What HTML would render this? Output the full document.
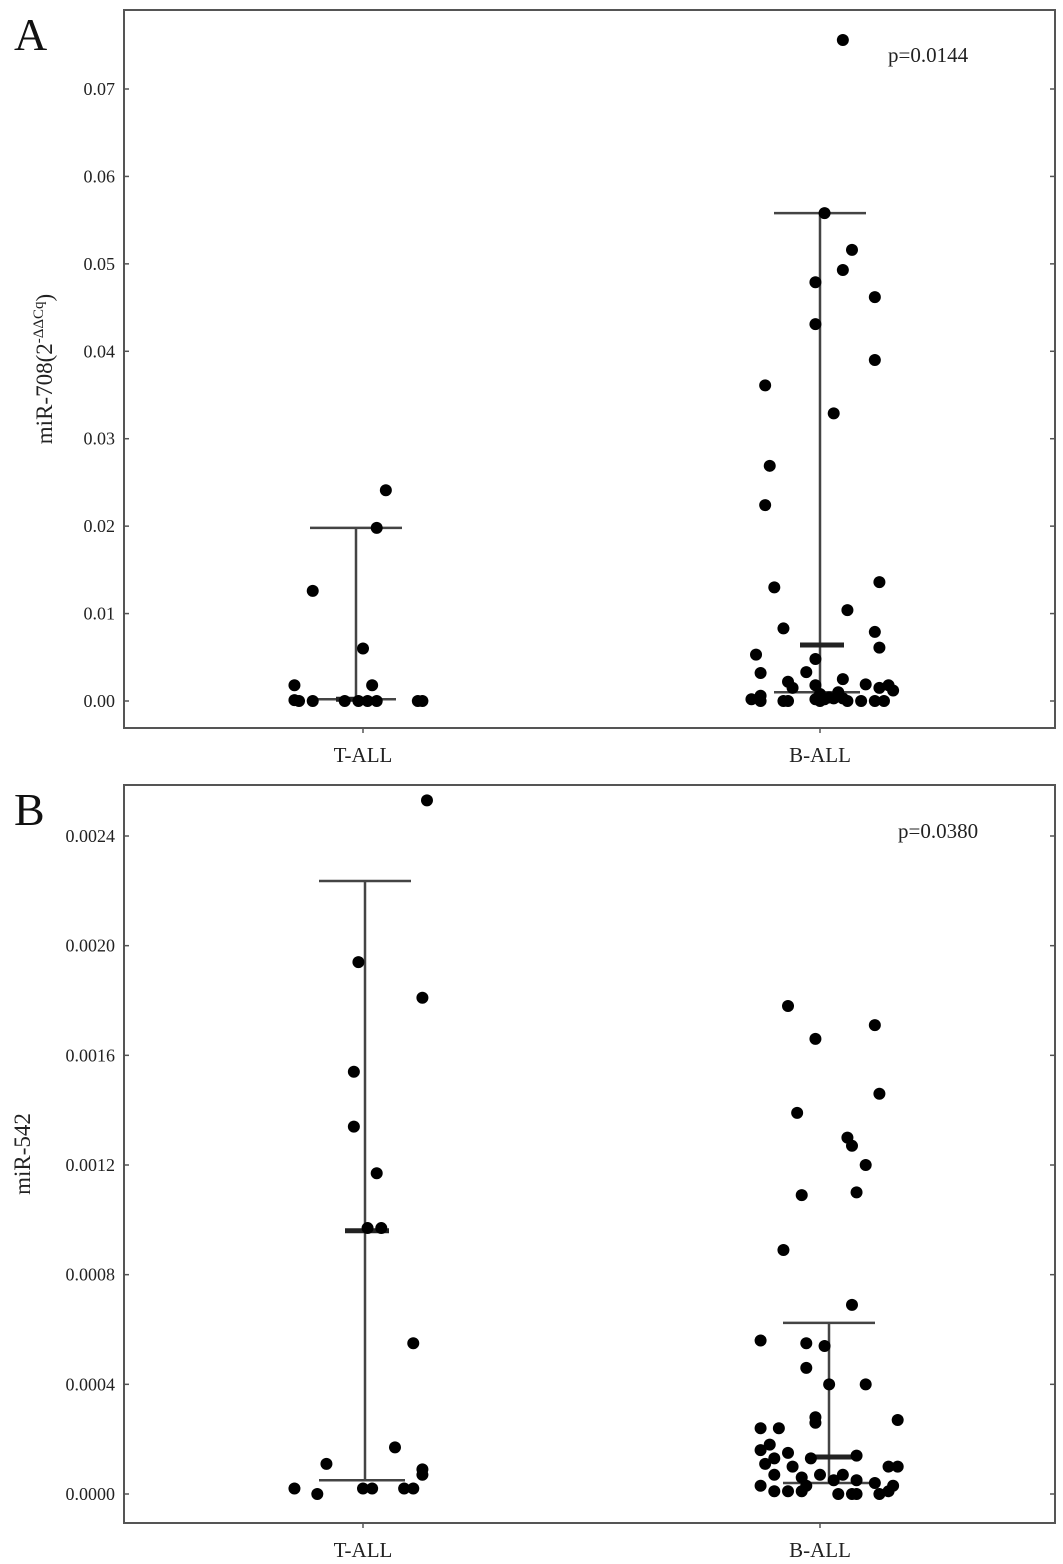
<!DOCTYPE html>
<html><head><meta charset="utf-8">
<style>
html,body{margin:0;padding:0;background:#fff;}
svg{display:block;font-family:"Liberation Serif",serif;}
</style></head>
<body>
<svg id="fig" width="1063" height="1564" viewBox="0 0 1063 1564"></svg>
<script>
const categories = ["T-ALL","B-ALL"];
// Panel A values
const aTicks = [0,0.01,0.02,0.03,0.04,0.05,0.06,0.07];
const aTickLabels = ["0.00","0.01","0.02","0.03","0.04","0.05","0.06","0.07"];
const aTValues = [0.0241,0.0198,0.0126,0.0060,0.0018,0.0018,0.0001,0,0,0,0,0,0,0,0];
const aTJitter = [0.05,0.03,-0.11,0.00,-0.15,0.02,-0.15,-0.14,-0.11,-0.04,-0.01,0.01,0.03,0.12,0.13];
const aBValues = [0.0756,0.0558,0.0516,0.0479,0.0493,0.0462,0.0431,0.0390,0.0361,0.0329,0.0269,0.0224,0.0130,0.0136,0.0104,0.0083,0.0079,0.0061,0.0053,0.0048,0.0032,0.0033,0.0025,0.0022,0.0019,0.0018,0.0015,0.0018,0.0015,0.0012,0.0002,0,0,0,0.0002,0,0.0002,0.0003,0.0003,0,0,0,0,0.0004,0.0008,0.0010,0.0006];
const aBJitter = [0.05,0.01,0.07,-0.01,0.05,0.12,-0.01,0.12,-0.12,0.03,-0.11,-0.12,-0.10,0.13,0.06,-0.08,0.12,0.13,-0.14,-0.01,-0.13,-0.03,0.05,-0.07,0.10,0.15,0.13,-0.01,-0.06,0.16,-0.15,-0.13,-0.08,-0.07,-0.01,0.00,0.01,0.03,0.05,0.06,0.09,0.12,0.14,0.02,0.00,0.04,-0.13];
const aTStats = {top:0.0198, median:0.0002, bottom:0.0002};
const aBStats = {top:0.0558, median:0.0064, bottom:0.0010};
// Panel B values
const bTicks = [0,0.0004,0.0008,0.0012,0.0016,0.0020,0.0024];
const bTickLabels = ["0.0000","0.0004","0.0008","0.0012","0.0016","0.0020","0.0024"];
const bTValues = [0.00253,0.00194,0.00181,0.00154,0.00134,0.00117,0.00097,0.00097,0.00055,0.00011,0.00017,0.00009,0.00007,0.00002,0.00000,0.00002,0.00002,0.00002,0.00002];
const bTJitter = [0.14,-0.01,0.13,-0.02,-0.02,0.03,0.01,0.04,0.11,-0.08,0.07,0.13,0.13,-0.15,-0.10,0.00,0.02,0.09,0.11];
const bBValues = [0.00178,0.00166,0.00171,0.00146,0.00139,0.00130,0.00127,0.00120,0.00109,0.00110,0.00089,0.00069,0.00056,0.00055,0.00054,0.00046,0.00040,0.00040,0.00028,0.00026,0.00027,0.00024,0.00024,0.00018,0.00016,0.00015,0.00013,0.00011,0.00010,0.00013,0.00014,0.00010,0.00010,0.00007,0.00006,0.00007,0.00007,0.00005,0.00005,0.00004,0.00003,0.00001,0.00001,0.00001,0.00003,0.00000,0.00000,0.00000,0.00000,0.00001,0.00003];
const bBJitter = [-0.07,-0.01,0.12,0.13,-0.05,0.06,0.07,0.10,-0.04,0.08,-0.08,0.07,-0.13,-0.03,0.01,-0.03,0.02,0.10,-0.01,-0.01,0.17,-0.13,-0.09,-0.11,-0.13,-0.07,-0.10,-0.12,-0.06,-0.02,0.08,0.15,0.17,-0.10,-0.04,0.00,0.05,0.03,0.08,0.12,0.16,-0.10,-0.07,-0.04,-0.03,0.04,0.07,0.08,0.13,0.15,-0.13];
const bTStats = {top:0.002236, median:0.00096, bottom:0.00005};
const bBStats = {top:0.000624, median:0.000135, bottom:0.00004};

const NS="http://www.w3.org/2000/svg";
const svg=document.getElementById('fig');
function el(tag,attrs,parent){const e=document.createElementNS(NS,tag);for(const k in attrs)e.setAttribute(k,attrs[k]);(parent||svg).appendChild(e);return e;}

function panel(p){
  const g=el('g',{});
  
  
  const L=124,R=1055;
  const y=v=>p.y0-(v-p.vmin)/(p.vmax-p.vmin)*(p.y0-p.y1);
  const catX=[363,820];
  const catW=457;
  const box=el('rect',{x:L,y:p.top,width:R-L,height:p.bottom-p.top,fill:'none',stroke:'#555','stroke-width':2},g);
  
  
  p.ticks.forEach((t,i)=>{
    const yy=y(t);
    el('line',{x1:L,x2:L+5,y1:yy,y2:yy,stroke:'#555','stroke-width':1.5},g);
    el('line',{x1:R-5,x2:R,y1:yy,y2:yy,stroke:'#555','stroke-width':1.5},g);
    const tx=el('text',{x:L-9,y:yy+6,'text-anchor':'end','font-size':18,fill:'#222'},g);
    tx.textContent=p.tickLabels[i];
    
    
  });
  categories.forEach((c,i)=>{
    el('line',{x1:catX[i],x2:catX[i],y1:p.bottom,y2:p.bottom+5,stroke:'#555','stroke-width':1.5},g);
    const tx=el('text',{x:catX[i],y:p.bottom+34,'text-anchor':'middle','font-size':21,fill:'#222'},g);
    tx.textContent=c;
    
    
  });
  const lt=el('text',{x:14,y:p.top+40,'font-size':46,fill:'#111'},g);
  lt.textContent=p.letter;
  
  
  const pt=el('text',{x:p.pX,y:p.pY,'font-size':21,fill:'#222'},g);
  pt.textContent=p.pText;
  
  
  const yt=el('text',{x:0,y:0,'font-size':23,fill:'#222','text-anchor':'middle',transform:`translate(${p.titleX},${(p.top+p.bottom)/2}) rotate(-90)`},g);
  yt.innerHTML=p.titleHTML;
  
  
  const series=[[p.tVals,p.tJit,p.tStats],[p.bVals,p.bJit,p.bStats]];
  series.forEach((s,i)=>{
    const cx=catX[i];
    const st=s[2];
    const bx=cx+p.barOff[i];
    const eg=el('g',{stroke:'#444','stroke-width':2.5},g);
    
    
    el('line',{x1:bx,x2:bx,y1:y(st.top),y2:y(st.bottom)},eg);
    el('line',{x1:bx-46,x2:bx+46,y1:y(st.top),y2:y(st.top)},eg);
    el('line',{x1:bx-46,x2:bx+40,y1:y(st.bottom),y2:y(st.bottom)},eg);
    el('line',{x1:bx-20,x2:bx+24,y1:y(st.median),y2:y(st.median),'stroke-width':5,stroke:'#222'},eg);
    s[0].forEach((v,j)=>{
      const d=el('circle',{cx:cx+s[1][j]*catW,cy:y(v),r:6,fill:'#000'},g);
      
      
    });
  });
}
panel({name:'panel-a',letter:'A',top:10,bottom:728,y0:701,y1:89,vmin:0,vmax:0.07,ticks:aTicks,tickLabels:aTickLabels,
  tVals:aTValues,tJit:aTJitter,bVals:aBValues,bJit:aBJitter,tStats:aTStats,bStats:aBStats,pX:888,pY:62,pText:'p=0.0144',
  barOff:[-7,0],
  titleX:52,titleHTML:'miR-708(2<tspan dy="-9" font-size="15">-ΔΔCq</tspan><tspan dy="9">)</tspan>'});
panel({name:'panel-b',letter:'B',top:785,bottom:1523,y0:1494,y1:836,vmin:0,vmax:0.0024,ticks:bTicks,tickLabels:bTickLabels,
  tVals:bTValues,tJit:bTJitter,bVals:bBValues,bJit:bBJitter,tStats:bTStats,bStats:bBStats,pX:898,pY:838,pText:'p=0.0380',
  barOff:[2,9],
  titleX:30,titleHTML:'miR-542'});
</script>
</body></html>
